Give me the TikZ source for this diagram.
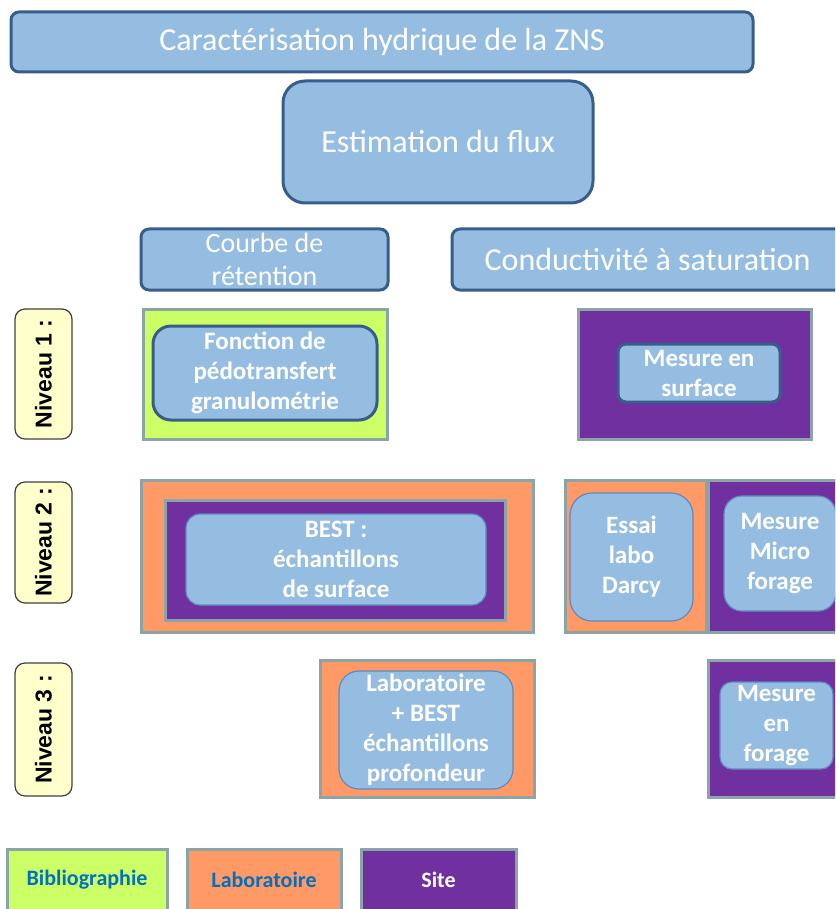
\documentclass[tikz,border=0pt]{standalone}
\usepackage{fontspec}
\setmainfont{Carlito}
\newfontfamily\arialfont{Liberation Sans}
\usetikzlibrary{positioning}

\definecolor{cellblue}{RGB}{149,189,225}
\definecolor{darkblue}{RGB}{56,93,138}
\definecolor{thinblue}{RGB}{96,138,192}
\definecolor{framegray}{RGB}{138,164,168}
\definecolor{biblio green}{RGB}{204,255,102}
\definecolor{labo orange}{RGB}{255,153,102}
\definecolor{site purple}{RGB}{112,48,160}
\definecolor{level yellow}{RGB}{255,255,204}
\definecolor{legend blue}{RGB}{0,112,192}

\begin{document}
\begin{tikzpicture}[x=1pt, y=-1pt,
    % Node styles
    header/.style={rectangle, rounded corners=8pt, fill=cellblue, draw=darkblue, line width=3pt,
        text=white, font=\fontsize{32}{33}\selectfont, align=center, inner sep=0pt},
    level/.style={rectangle, rounded corners=10pt, fill=level yellow, draw=black!75, line width=1.2pt,
        rotate=90, font=\arialfont\bfseries\fontsize{23}{26}\selectfont, inner sep=0pt,
        minimum height=57pt},
    biblio/.style={rectangle, fill=biblio green, draw=framegray, line width=3pt, inner sep=0pt},
    labo/.style={rectangle, fill=labo orange, draw=framegray, line width=3pt, inner sep=0pt},
    site/.style={rectangle, fill=site purple, draw=framegray, line width=3pt, inner sep=0pt},
    method/.style={rectangle, fill=cellblue, draw=thinblue, line width=1.2pt, text=white,
        font=\fontsize{25}{30}\selectfont\bfseries, align=center, inner sep=0pt},
    strong/.style={method, draw=darkblue, line width=3pt},
    legend/.style={font=\fontsize{22}{24}\selectfont\bfseries, inner sep=0pt, minimum height=62pt}
]
\useasboundingbox (0,0) rectangle (835,909);
\clip (0,0) rectangle (835,909);
% Header nodes
\node[header, minimum width=742pt, minimum height=60pt] (zns) at (382, 42) {Caractérisation hydrique de la ZNS};
\node[header, minimum width=310pt, minimum height=122pt, rounded corners=22pt] (flux) at (438, 142) {Estimation du flux};
\node[header, minimum width=247pt, minimum height=61pt, font=\fontsize{28}{33}\selectfont] (retention) at (264.5, 259.5) {Courbe de\\rétention};
\node[header, minimum width=391pt, minimum height=61pt] (ksat) at (647.5, 259.5) {Conductivité à saturation};
% Level nodes
\node[level, minimum width=130pt] (niv1) at (43.5, 374) {Niveau 1 :};
\node[level, minimum width=121pt] (niv2) at (43.5, 542.5) {Niveau 2 :};
\node[level, minimum width=133pt] (niv3) at (43.5, 729.5) {Niveau 3 :};
% Niveau 1
\node[biblio, minimum width=244pt, minimum height=130pt] (n1biblio) at (265, 374) {};
\node[strong, minimum width=224pt, minimum height=94pt, rounded corners=18pt] (pedo) at (265, 373) {Fonction de\\pédotransfert\\granulométrie};
\node[site, minimum width=233pt, minimum height=130pt] (n1site) at (694.5, 374) {};
\node[strong, minimum width=162pt, minimum height=58pt, rounded corners=8pt] (surf) at (699, 373) {Mesure en\\surface};
% Niveau 2
\node[labo, minimum width=392pt, minimum height=152pt] (n2labo) at (337, 556) {};
\node[site, minimum width=340pt, minimum height=120pt] (n2site) at (335, 560) {};
\node[method, minimum width=300pt, minimum height=91pt, rounded corners=14pt] (best) at (336, 559.5) {BEST :\\échantillons\\de surface};
\node[labo, minimum width=141pt, minimum height=152pt] (n2darcy) at (635.5, 556) {};
\node[method, minimum width=123pt, minimum height=128pt, rounded corners=22pt] (darcy) at (631.5, 557) {Essai\\labo\\Darcy};
\node[site, minimum width=142pt, minimum height=152pt] (n2micro) at (779, 556) {};
\node[method, minimum width=112pt, minimum height=115pt, rounded corners=18pt] (micro) at (780, 553.5) {Mesure\\Micro\\forage};
% Niveau 3
\node[labo, minimum width=214pt, minimum height=137pt] (n3labo) at (427, 728.5) {};
\node[method, minimum width=174pt, minimum height=118pt, rounded corners=20pt] (prof) at (426, 730) {Laboratoire\\+ BEST\\échantillons\\profondeur};
\node[site, minimum width=142pt, minimum height=137pt] (n3site) at (779, 728.5) {};
\node[method, minimum width=113pt, minimum height=87pt, rounded corners=12pt] (forage) at (776.5, 725.5) {Mesure\\en\\forage};
% Legend
\node[biblio, legend, minimum width=160pt, text=legend blue] (legbiblio) at (87, 880) {Bibliographie};
\node[labo, legend, minimum width=154pt, text=legend blue] (leglabo) at (264, 880) {Laboratoire};
\node[site, legend, minimum width=155pt, text=white] (legsite) at (438.5, 880) {Site};
\end{tikzpicture}
\end{document}
